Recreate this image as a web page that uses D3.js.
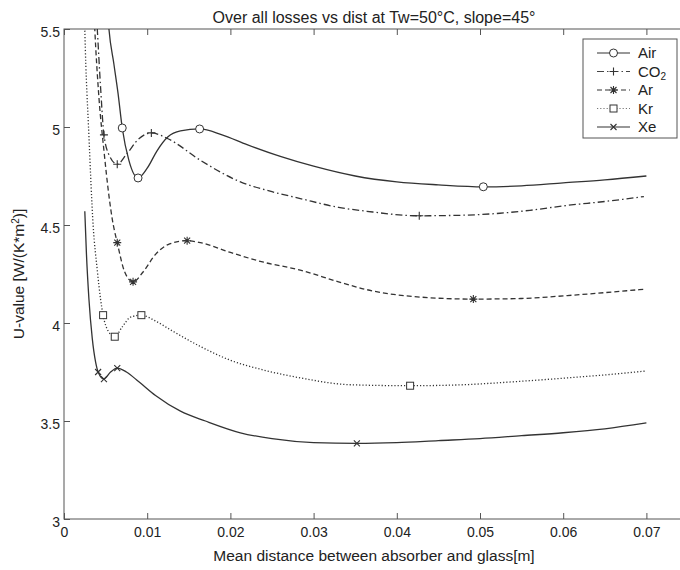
<!DOCTYPE html>
<html lang="en">
<head>
<meta charset="UTF-8">
<title>Over all losses vs dist</title>
<style>
  body { margin: 0; background: #fff; font-family: "Liberation Sans", Arial, sans-serif; }
  .frame { fill: none; stroke: #555; stroke-width: 1; }
  .tick line { stroke: #555; }
  .lbl { font-size: 14px; fill: #222; }
  .big { font-size: 15.5px; fill: #222; }
  .series { fill: none; stroke: #333; stroke-width: 1.3; }
</style>
</head>
<body>
<svg width="680" height="570"></svg>
<script src="https://d3js.org/d3.v7.min.js"></script>
<script>
// values
const airX = [0.0050,0.0054,0.0060,0.0065,0.0070,0.0078,0.0089,0.0100,0.0112,0.0125,0.0140,0.0163,0.0190,0.0220,0.0260,0.0300,0.0350,0.0400,0.0450,0.0504,0.0550,0.0600,0.0650,0.0700];
const airY = [5.75,5.50,5.32,5.17,4.995,4.83,4.74,4.79,4.88,4.95,4.98,4.99,4.96,4.91,4.85,4.80,4.75,4.72,4.705,4.695,4.70,4.715,4.73,4.75];
const airMarks = [0.0070,0.0089,0.0163,0.0504];

const co2X = [0.0036,0.0040,0.0044,0.0048,0.0055,0.0064,0.0075,0.0090,0.0105,0.0125,0.0164,0.0212,0.0250,0.0284,0.0330,0.0364,0.0427,0.0480,0.0524,0.0560,0.0605,0.0650,0.0697];
const co2Y = [5.8,5.5,5.2,4.96,4.85,4.81,4.86,4.94,4.97,4.94,4.83,4.72,4.67,4.635,4.59,4.57,4.547,4.55,4.56,4.575,4.60,4.62,4.645];
const co2Marks = [0.0048,0.0064,0.0105,0.0427];

const arX = [0.0034,0.0037,0.0042,0.0048,0.0054,0.0058,0.0064,0.0073,0.0083,0.0095,0.0110,0.0125,0.0148,0.0164,0.0200,0.0240,0.0284,0.0330,0.0364,0.0420,0.0492,0.0550,0.0605,0.0650,0.0699];
const arY = [5.8,5.5,5.15,4.88,4.65,4.53,4.41,4.26,4.21,4.26,4.35,4.40,4.42,4.41,4.36,4.31,4.27,4.21,4.17,4.135,4.122,4.125,4.14,4.155,4.173];
const arMarks = [0.0064,0.0083,0.0148,0.0492];

const krX = [0.0023,0.0025,0.0030,0.0035,0.0040,0.0044,0.0047,0.0053,0.0061,0.0070,0.0080,0.0093,0.0110,0.0130,0.0164,0.0200,0.0240,0.0284,0.0344,0.0416,0.0480,0.0540,0.0605,0.0650,0.0699];
const krY = [5.9,5.5,4.95,4.5,4.27,4.12,4.04,3.96,3.93,3.98,4.03,4.04,4.01,3.96,3.88,3.81,3.76,3.72,3.685,3.68,3.685,3.70,3.72,3.735,3.755];
const krMarks = [0.0047,0.0061,0.0093,0.0416];

const xeX = [0.0025,0.0027,0.0030,0.0034,0.0038,0.0041,0.0048,0.0056,0.0064,0.0075,0.0090,0.0110,0.0140,0.0170,0.0212,0.0250,0.0300,0.0352,0.0400,0.0450,0.0500,0.0550,0.0600,0.0650,0.0700];
const xeY = [4.57,4.35,4.12,3.92,3.80,3.75,3.714,3.75,3.77,3.75,3.70,3.63,3.55,3.50,3.44,3.41,3.39,3.386,3.39,3.40,3.41,3.425,3.44,3.46,3.49];
const xeMarks = [0.0041,0.0048,0.0064,0.0352];

const xTicks = [0,0.01,0.02,0.03,0.04,0.05,0.06,0.07];
const yTicks = [3,3.5,4,4.5,5,5.5];

const series = [
  { name: "Air", x: airX, y: airY, marks: airMarks, dash: null, color: "#333", sym: "circle" },
  { name: "CO2", x: co2X, y: co2Y, marks: co2Marks, dash: "7,3,1.5,3", color: "#444", sym: "plus" },
  { name: "Ar", x: arX, y: arY, marks: arMarks, dash: "5,3", color: "#333", sym: "star" },
  { name: "Kr", x: krX, y: krY, marks: krMarks, dash: "1.2,2", color: "#777", sym: "square" },
  { name: "Xe", x: xeX, y: xeY, marks: xeMarks, dash: null, color: "#333", sym: "cross" }
];

const mLeft = 64, mRight = 688, mTop = 29, mBottom = 519;
const svg = d3.select("svg");
const x = d3.scaleLinear().domain([0, 0.075]).range([mLeft, mRight]);
const y = d3.scaleLinear().domain([3, 5.5]).range([mBottom, mTop]);

svg.append("clipPath").attr("id", "plot")
  .append("rect").attr("x", mLeft).attr("y", mTop).attr("width", mRight - mLeft).attr("height", mBottom - mTop);

// axes with inward ticks on all four sides
const tk = 6;
svg.append("g").attr("class", "tick").attr("transform", `translate(0,${mBottom})`)
  .call(d3.axisBottom(x).tickValues(xTicks).tickSize(-tk).tickFormat(d => d === 0 ? "0" : d3.format(".2f")(d)))
  .call(g => { g.select(".domain").remove(); g.selectAll("text").attr("class", "lbl").attr("y", 8).attr("dy", "0.71em"); })
  .attr("font-family", null).attr("font-size", null);
svg.append("g").attr("class", "tick").attr("transform", `translate(0,${mTop})`)
  .call(d3.axisTop(x).tickValues(xTicks).tickSize(-tk).tickFormat(""))
  .call(g => g.select(".domain").remove());
svg.append("g").attr("class", "tick").attr("transform", `translate(${mLeft},0)`)
  .call(d3.axisLeft(y).tickValues(yTicks).tickSize(-tk).tickFormat(d => d3.format("")(d)))
  .call(g => { g.select(".domain").remove(); g.selectAll("text").attr("class", "lbl").attr("x", -4).attr("dy", "0.55em"); })
  .attr("font-family", null).attr("font-size", null);
svg.append("g").attr("class", "tick").attr("transform", `translate(${mRight},0)`)
  .call(d3.axisRight(y).tickValues(yTicks).tickSize(-tk).tickFormat(""))
  .call(g => g.select(".domain").remove());
svg.append("rect").attr("class", "frame")
  .attr("x", mLeft).attr("y", mTop).attr("width", mRight - mLeft).attr("height", mBottom - mTop);

// lines
const line = d3.line().x(d => x(d[0])).y(d => y(d[1])).curve(d3.curveMonotoneX);
const plot = svg.append("g").attr("clip-path", "url(#plot)");
series.forEach(s => {
  const pts = s.x.map((v, i) => [v, s.y[i]]);
  plot.append("path").attr("class", "series").attr("d", line(pts))
    .attr("stroke", s.color).attr("stroke-dasharray", s.dash);
});

// markers
function drawMark(g, sym, color) {
  if (sym === "circle") g.append("circle").attr("r", 4).attr("fill", "#fff").attr("stroke", color);
  else if (sym === "square") g.append("rect").attr("x", -3.5).attr("y", -3.5).attr("width", 7).attr("height", 7).attr("fill", "#fff").attr("stroke", color);
  else {
    const d = sym === "plus" ? "M-4,0H4M0,-4V4"
      : sym === "star" ? "M-4,0H4M0,-4V4M-3,-3L3,3M-3,3L3,-3"
      : "M-3,-3L3,3M-3,3L3,-3";
    g.append("path").attr("d", d).attr("stroke", color).attr("stroke-width", 1.1).attr("fill", "none");
  }
}
series.forEach(s => {
  s.marks.forEach(mx => {
    const i = s.x.indexOf(mx);
    const g = svg.append("g").attr("transform", `translate(${x(s.x[i])},${y(s.y[i])})`);
    drawMark(g, s.sym, "#333");
  });
});

// legend
const lg = svg.append("g");
lg.append("rect").attr("x", 583).attr("y", 39).attr("width", 94).attr("height", 99)
  .attr("fill", "#fff").attr("stroke", "#555");
const rowY = d3.scalePoint().domain(series.map(s => s.name)).range([53, 127]);
series.forEach(s => {
  const ry = rowY(s.name);
  lg.append("line").attr("x1", 597).attr("x2", 630).attr("y1", ry).attr("y2", ry)
    .attr("stroke", s.color).attr("stroke-width", 1.2).attr("stroke-dasharray", s.dash);
  drawMark(lg.append("g").attr("transform", `translate(613.5,${ry})`), s.sym, "#333");
  const t = lg.append("text").attr("class", "lbl").attr("x", 638).attr("y", ry).attr("dy", "0.36em")
    .style("font-size", "15px");
  if (s.name === "CO2") {
    t.append("tspan").text("CO");
    t.append("tspan").attr("font-size", "10px").attr("dy", "3").text("2");
  } else t.text(s.name);
});

// titles
svg.append("text").attr("class", "big").attr("x", 374).attr("y", 23).attr("text-anchor", "middle")
  .style("font-size", "16px")
  .text("Over all losses vs dist at Tw=50\u00b0C, slope=45\u00b0");
svg.append("text").attr("class", "big").attr("x", 374).attr("y", 561).attr("text-anchor", "middle")
  .text("Mean distance between absorber and glass[m]");
const yl = svg.append("text").attr("class", "big").attr("text-anchor", "middle")
  .attr("transform", "translate(24,274) rotate(-90)");
yl.append("tspan").text("U-value [W/(K*m");
yl.append("tspan").attr("font-size", "10px").attr("dy", "-5").text("2");
yl.append("tspan").attr("dy", "5").text(")]");
</script>
</body>
</html>
